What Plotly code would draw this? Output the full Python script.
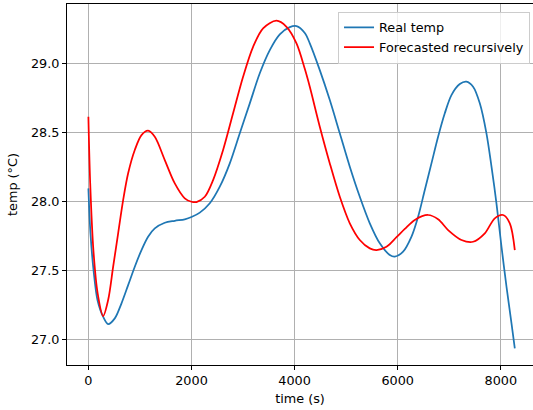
import plotly.graph_objects as go

# Measured temperature over time
time_real = [0, 40, 100, 176, 286, 383, 512, 642, 771, 900, 1030, 1158, 1288, 1482,
             1676, 1870, 2000, 2161, 2355, 2549, 2743, 2937, 3131, 3325, 3519, 3713,
             3907, 4037, 4198, 4295, 4489, 4683, 4877, 5071, 5265, 5459, 5653, 5847,
             5944, 6105, 6268, 6396, 6526, 6655, 6784, 6914, 7043, 7205, 7334, 7463,
             7593, 7722, 7820, 7916, 8014, 8111, 8208, 8272]
temp_real = [28.094, 27.77, 27.50, 27.285, 27.164, 27.111, 27.152, 27.261, 27.393,
             27.526, 27.647, 27.744, 27.804, 27.845, 27.859, 27.870, 27.886, 27.918,
             27.986, 28.106, 28.275, 28.493, 28.710, 28.928, 29.096, 29.210, 29.262,
             29.270, 29.220, 29.145, 28.951, 28.734, 28.493, 28.251, 28.033, 27.841,
             27.696, 27.611, 27.599, 27.635, 27.744, 27.888, 28.082, 28.275, 28.468,
             28.638, 28.770, 28.850, 28.867, 28.830, 28.710, 28.493, 28.251, 27.986,
             27.671, 27.381, 27.116, 26.935]

# Recursive forecast
time_fc = [0, 35, 97, 180, 286, 383, 480, 577, 674, 771, 900, 1030, 1158, 1288, 1482,
           1676, 1870, 2000, 2097, 2258, 2419, 2613, 2807, 3001, 3195, 3389, 3649,
           3843, 4037, 4198, 4295, 4489, 4683, 4877, 5071, 5265, 5459, 5589, 5783,
           5977, 6138, 6332, 6590, 6784, 6978, 7238, 7463, 7690, 7884, 8045, 8175,
           8272]
temp_fc = [28.613, 28.13, 27.647, 27.333, 27.169, 27.285, 27.526, 27.768, 28.009,
           28.203, 28.372, 28.480, 28.512, 28.468, 28.299, 28.130, 28.022, 27.997,
           27.995, 28.033, 28.154, 28.372, 28.638, 28.903, 29.120, 29.254, 29.309,
           29.265, 29.145, 28.96, 28.830, 28.541, 28.275, 28.033, 27.841, 27.720,
           27.659, 27.647, 27.671, 27.740, 27.800, 27.865, 27.901, 27.870, 27.792,
           27.720, 27.707, 27.768, 27.877, 27.901, 27.841, 27.647]

x_ticks = [0, 2000, 4000, 6000, 8000]
y_ticks = [27.0, 27.5, 28.0, 28.5, 29.0]

FONT = "DejaVu Sans"
FS = 12.8

fig = go.Figure()
fig.add_trace(go.Scatter(x=time_real, y=temp_real, mode="lines", name="Real temp",
                         line=dict(color="#1f77b4", width=1.75, shape="spline", smoothing=0.9)))
fig.add_trace(go.Scatter(x=time_fc, y=temp_fc, mode="lines", name="Forecasted recursively",
                         line=dict(color="#ff0000", width=1.75, shape="spline", smoothing=0.9)))

fig.update_layout(
    width=533, height=410,
    margin=dict(l=67, r=0, t=4, b=45),
    paper_bgcolor="white", plot_bgcolor="white",
    font=dict(family=FONT, size=FS, color="black"),
    showlegend=True,
    legend=dict(x=0.9936, y=0.979, xanchor="right", yanchor="top",
                bgcolor="rgba(255,255,255,0.8)", bordercolor="#cccccc", borderwidth=1,
                font=dict(family=FONT, size=FS, color="black")),
    xaxis=dict(range=[-415, 8625], tickvals=x_ticks, ticktext=[str(v) for v in x_ticks],
               showgrid=True, gridcolor="#b0b0b0", gridwidth=1,
               showline=True, linecolor="black", linewidth=1, mirror=True,
               ticks="outside", ticklen=4, tickcolor="black", zeroline=False,
               title=dict(text="time (s)", standoff=6, font=dict(family=FONT, size=FS))),
    yaxis=dict(range=[26.814, 29.430], tickvals=y_ticks,
               ticktext=[f"{v:.1f}" for v in y_ticks],
               showgrid=True, gridcolor="#b0b0b0", gridwidth=1,
               showline=True, linecolor="black", linewidth=1, mirror=False,
               ticks="outside", ticklen=4, tickcolor="black", zeroline=False,
               title=dict(text="temp (°C)", standoff=10, font=dict(family=FONT, size=FS))),
)

fig.write_html("out.html")
